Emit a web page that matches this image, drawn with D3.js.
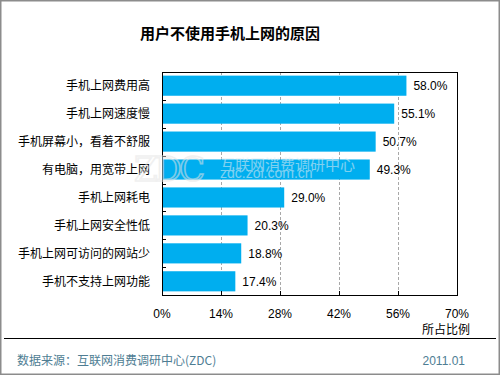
<!DOCTYPE html>
<html>
<head>
<meta charset="utf-8">
<script src="https://cdn.jsdelivr.net/npm/d3@7"></script>
<style>
  body { margin: 0; background: #fff; }
  svg { display: block; }
</style>
</head>
<body>
<div id="chart"></div>
<script>
// data
const categories = ['手机上网费用高', '手机上网速度慢', '手机屏幕小，看着不舒服', '有电脑，用宽带上网',
    '手机上网耗电', '手机上网安全性低', '手机上网可访问的网站少', '手机不支持上网功能'];
const values = [58.0, 55.1, 50.7, 49.3, 29.0, 20.3, 18.8, 17.4];
const xTicks = [0, 14, 28, 42, 56, 70];

const W = 500, H = 375;
const margin = { top: 72, right: 43, bottom: 80, left: 162 };
const width = W - margin.left - margin.right;
const height = H - margin.top - margin.bottom;

const cjk = '"Noto Sans CJK SC", sans-serif';
const latin = 'Arial, "Liberation Sans", sans-serif';

const svg = d3.select('#chart').append('svg')
    .attr('width', W)
    .attr('height', H);

// outer frame
svg.append('rect')
    .attr('x', 0.75).attr('y', 0.75)
    .attr('width', W - 1.5).attr('height', H - 1.5)
    .attr('fill', '#fff')
    .attr('stroke', '#8c8c8c')
    .attr('stroke-width', 1.5);

// title
svg.append('text')
    .attr('x', 230).attr('y', 39)
    .attr('text-anchor', 'middle')
    .style('font-family', cjk)
    .style('font-size', '15px')
    .style('font-weight', 'bold')
    .text('用户不使用手机上网的原因');

const g = svg.append('g')
    .attr('transform', `translate(${margin.left},${margin.top})`);

const x = d3.scaleLinear().domain([0, 70]).range([0, width]);
const y = d3.scaleBand().domain(categories).range([0, height])
    .paddingInner(0.28).paddingOuter(0.13);

// dashed grid
g.selectAll('.grid')
    .data(xTicks.slice(1, -1))
    .join('line')
    .attr('x1', d => x(d) + 0.5).attr('x2', d => x(d) + 0.5)
    .attr('y1', 0).attr('y2', height)
    .attr('stroke', '#a8a8a8')
    .attr('stroke-dasharray', '3,2');

// bars
g.selectAll('.bar')
    .data(values)
    .join('rect')
    .attr('x', 0)
    .attr('y', (d, i) => y(categories[i]))
    .attr('width', d => x(d))
    .attr('height', y.bandwidth())
    .attr('fill', '#00aeef');

// watermark
const wm = svg.append('g').attr('opacity', 0.55);
wm.append('text')
    .attr('x', 134).attr('y', 181)
    .style('font-family', '"DejaVu Serif", serif')
    .style('font-size', '34px')
    .style('letter-spacing', '-3px')
    .attr('fill', 'none')
    .attr('stroke', '#e4e4e4')
    .attr('stroke-width', 1.6)
    .text('ZDC');
wm.append('text')
    .attr('x', 220).attr('y', 170)
    .style('font-family', cjk)
    .style('font-size', '15px')
    .attr('fill', '#e8eef2')
    .text('互联网消费调研中心');
wm.append('text')
    .attr('x', 220).attr('y', 178)
    .style('font-family', latin)
    .style('font-size', '14px')
    .attr('fill', '#e8eef2')
    .text('zdc.zol.com.cn');

// value labels
g.selectAll('.val')
    .data(values)
    .join('text')
    .attr('x', d => x(d) + 7)
    .attr('y', (d, i) => y(categories[i]) + y.bandwidth() / 2 + 4.5)
    .style('font-family', latin)
    .style('font-size', '12px')
    .attr('fill', '#000')
    .text(d => d.toFixed(1) + '%');

// category labels
g.selectAll('.cat')
    .data(categories)
    .join('text')
    .attr('x', -12)
    .attr('y', d => y(d) + y.bandwidth() / 2 + 4.5)
    .attr('text-anchor', 'end')
    .style('font-family', cjk)
    .style('font-size', '12px')
    .attr('fill', '#000')
    .text(d => d);

// plot frame
g.append('rect')
    .attr('x', 0.5).attr('y', 0.5)
    .attr('width', width).attr('height', height)
    .attr('fill', 'none')
    .attr('stroke', '#000');

// inner ticks on category axis (band boundaries)
const step = y.step();
g.selectAll('.ytick')
    .data(categories.slice(1))
    .join('line')
    .attr('x1', 0).attr('x2', 4)
    .attr('y1', d => Math.round(y(d) - step * 0.14) + 0.5)
    .attr('y2', d => Math.round(y(d) - step * 0.14) + 0.5)
    .attr('stroke', '#000');

// inner ticks on value axis
g.selectAll('.xtick')
    .data(xTicks.slice(1, -1))
    .join('line')
    .attr('x1', d => x(d) + 0.5).attr('x2', d => x(d) + 0.5)
    .attr('y1', height).attr('y2', height - 4)
    .attr('stroke', '#000');

// tick labels
g.selectAll('.xlab')
    .data(xTicks)
    .join('text')
    .attr('x', d => x(d))
    .attr('y', height + 23)
    .attr('text-anchor', 'middle')
    .style('font-family', latin)
    .style('font-size', '12px')
    .text(d => d + '%');

svg.append('text')
    .attr('x', 470).attr('y', 334)
    .attr('text-anchor', 'end')
    .style('font-family', cjk)
    .style('font-size', '12px')
    .text('所占比例');

// footer
svg.append('line')
    .attr('x1', 4).attr('x2', 496)
    .attr('y1', 338.5).attr('y2', 338.5)
    .attr('stroke', '#000');

svg.append('text')
    .attr('x', 17).attr('y', 365)
    .style('font-family', cjk)
    .style('font-size', '12px')
    .attr('fill', '#4e7d93')
    .text('数据来源：互联网消费调研中心(ZDC)');

svg.append('text')
    .attr('x', 465).attr('y', 365)
    .attr('text-anchor', 'end')
    .style('font-family', latin)
    .style('font-size', '12px')
    .attr('fill', '#4e7d93')
    .text('2011.01');
</script>
</body>
</html>
